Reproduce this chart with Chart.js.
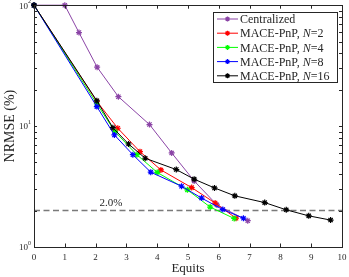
<!DOCTYPE html>
<html>
<head>
<meta charset="utf-8">
<script src="https://cdn.jsdelivr.net/npm/chart.js@4.4.1/dist/chart.umd.min.js"></script>
<style>
  html, body { margin: 0; padding: 0; background: #fff; }
  canvas { display: block; }
</style>
</head>
<body>
<canvas id="grafica" width="349" height="277"></canvas>
<script>
// valores
const seriesNames = ['Centralized', 'MACE-PnP, N=2', 'MACE-PnP, N=4', 'MACE-PnP, N=8', 'MACE-PnP, N=16'];
const equitsCentral = [0, 1, 1.46, 2.05, 2.74, 3.75, 4.47, 5.2, 5.94, 6.94];
const nrmseCentral = [100, 100, 59.4, 30.7, 17.5, 10.3, 6.0, 3.52, 2.23, 1.65];
const equitsN2 = [0, 2.04, 2.72, 3.44, 4.12, 5.12, 5.88, 6.56];
const nrmseN2 = [100, 16.0, 9.6, 6.15, 4.34, 3.1, 2.31, 1.73];
const equitsN4 = [0, 2.04, 2.63, 3.34, 4.0, 4.98, 5.72, 6.5];
const nrmseN4 = [100, 15.3, 9.0, 5.8, 4.14, 2.97, 2.14, 1.72];
const equitsN8 = [0, 2.04, 2.61, 3.21, 3.79, 4.79, 5.44, 6.13, 6.8];
const nrmseN8 = [100, 14.5, 8.45, 5.8, 4.16, 3.18, 2.54, 2.04, 1.73];
const equitsN16 = [0, 2.04, 2.56, 3.07, 3.61, 4.62, 5.2, 5.86, 6.52, 7.49, 8.19, 8.92, 9.63];
const nrmseN16 = [100, 16.2, 9.7, 7.11, 5.42, 4.37, 3.64, 3.08, 2.65, 2.33, 2.03, 1.81, 1.67];
const umbral = 2.0;
const xTicks = [0, 1, 2, 3, 4, 5, 6, 7, 8, 9, 10];
const yDecades = [1, 10, 100];

const colores = ['#8B44A6', '#FF0000', '#00FF00', '#0000FF', '#000000'];
const SERIF = "'Liberation Serif', 'DejaVu Serif', serif";
const TXT = '#262626';

function puntos(xs, ys) { return xs.map((x, i) => ({ x: x, y: ys[i] })); }

const datos = [
  puntos(equitsCentral, nrmseCentral),
  puntos(equitsN2, nrmseN2),
  puntos(equitsN4, nrmseN4),
  puntos(equitsN8, nrmseN8),
  puntos(equitsN16, nrmseN16)
];

const datasets = datos.map((d, i) => ({
  label: seriesNames[i],
  data: d,
  borderColor: colores[i],
  backgroundColor: colores[i],
  borderWidth: 1,
  pointStyle: 'star',
  pointRadius: 3,
  pointBorderWidth: 1.2,
  pointBorderColor: colores[i],
  clip: false,
  order: 5 - i
}));

// linea de umbral 2.0%
datasets.push({
  label: 'umbral',
  data: [{ x: 0, y: umbral }, { x: 10, y: umbral }],
  borderColor: '#7a7a7a',
  borderWidth: 1.5,
  borderDash: [6, 3.5],
  pointRadius: 0,
  order: 10
});

const marco = {
  id: 'marco',
  afterDraw(chart) {
    const ctx = chart.ctx;
    const a = chart.chartArea;
    const sx = chart.scales.x, sy = chart.scales.y;
    ctx.save();

    // caja
    ctx.strokeStyle = TXT;
    ctx.lineWidth = 1;
    ctx.strokeRect(Math.round(a.left) + 0.5, Math.round(a.top) + 0.5,
                   Math.round(a.right - a.left), Math.round(a.bottom - a.top));

    // ticks hacia adentro
    ctx.beginPath();
    xTicks.forEach(v => {
      const px = Math.round(sx.getPixelForValue(v)) + 0.5;
      ctx.moveTo(px, a.bottom); ctx.lineTo(px, a.bottom - 3.5);
      ctx.moveTo(px, a.top); ctx.lineTo(px, a.top + 3.5);
    });
    for (let k = 0; k < 2; k++) {
      for (let m = 1; m <= 9; m++) {
        const v = m * Math.pow(10, k);
        const py = Math.round(sy.getPixelForValue(v)) + 0.5;
        ctx.moveTo(a.left, py); ctx.lineTo(a.left + 3, py);
        ctx.moveTo(a.right, py); ctx.lineTo(a.right - 3, py);
      }
    }
    ctx.stroke();

    // etiquetas eje x
    ctx.fillStyle = TXT;
    ctx.font = '9px ' + SERIF;
    ctx.textAlign = 'center';
    ctx.textBaseline = 'middle';
    xTicks.forEach(v => ctx.fillText(String(v), sx.getPixelForValue(v), a.bottom + 11));

    // etiquetas eje y (10^k)
    yDecades.forEach((v, k) => {
      const py = sy.getPixelForValue(v);
      ctx.font = '6px ' + SERIF;
      ctx.textAlign = 'left';
      const ew = ctx.measureText(String(k)).width;
      ctx.fillText(String(k), a.left - 3 - ew, py - 4);
      ctx.font = '9px ' + SERIF;
      ctx.textAlign = 'right';
      ctx.fillText('10', a.left - 3 - ew, py + 1);
    });

    // titulos
    ctx.font = '13px ' + SERIF;
    ctx.textAlign = 'center';
    ctx.fillText('Equits', (a.left + a.right) / 2, 269);
    ctx.save();
    ctx.translate(10, (a.top + a.bottom) / 2);
    ctx.rotate(-Math.PI / 2);
    ctx.font = '14px ' + SERIF;
    ctx.fillText('NRMSE (%)', 0, 0);
    ctx.restore();

    // texto del umbral
    ctx.font = '11px ' + SERIF;
    ctx.textAlign = 'center';
    ctx.fillText(umbral.toFixed(1) + '%', sx.getPixelForValue(2.5), sy.getPixelForValue(umbral) - 7);

    // leyenda
    const lx = 213, ly = 12, lw = 124, lh = 70;
    ctx.fillStyle = '#fff';
    ctx.fillRect(lx, ly, lw, lh);
    ctx.strokeStyle = TXT;
    ctx.strokeRect(lx + 0.5, ly + 0.5, lw, lh);
    ctx.textAlign = 'left';
    seriesNames.forEach((name, i) => {
      const y = 19 + i * 14.2;
      ctx.strokeStyle = colores[i];
      ctx.lineWidth = 1;
      ctx.beginPath();
      ctx.moveTo(217, y); ctx.lineTo(238, y);
      ctx.stroke();
      ctx.lineWidth = 1.2;
      Chart.helpers.drawPoint(ctx, { pointStyle: 'star', radius: 2.5, borderWidth: 1.2 }, 227.5, y);
      ctx.fillStyle = TXT;
      ctx.font = '12px ' + SERIF;
      let x = 240;
      const partes = name.split('N=');
      if (partes.length === 2) {
        ctx.fillText(partes[0], x, y + 1);
        x += ctx.measureText(partes[0]).width;
        ctx.font = 'italic 12px ' + SERIF;
        ctx.fillText('N', x, y + 1);
        x += ctx.measureText('N').width;
        ctx.font = '12px ' + SERIF;
        ctx.fillText('=' + partes[1], x, y + 1);
      } else {
        ctx.fillText(name, x, y + 1);
      }
    });
    ctx.restore();
  }
};

new Chart(document.getElementById('grafica').getContext('2d'), {
  type: 'line',
  data: { datasets: datasets },
  options: {
    responsive: false,
    animation: false,
    devicePixelRatio: 1,
    layout: { padding: { left: 34, right: 7, top: 5, bottom: 30 } },
    plugins: { legend: { display: false }, tooltip: { enabled: false } },
    scales: {
      x: { type: 'linear', min: 0, max: 10, display: false },
      y: { type: 'logarithmic', min: 1, max: 100, display: false }
    }
  },
  plugins: [marco]
});
</script>
</body>
</html>
